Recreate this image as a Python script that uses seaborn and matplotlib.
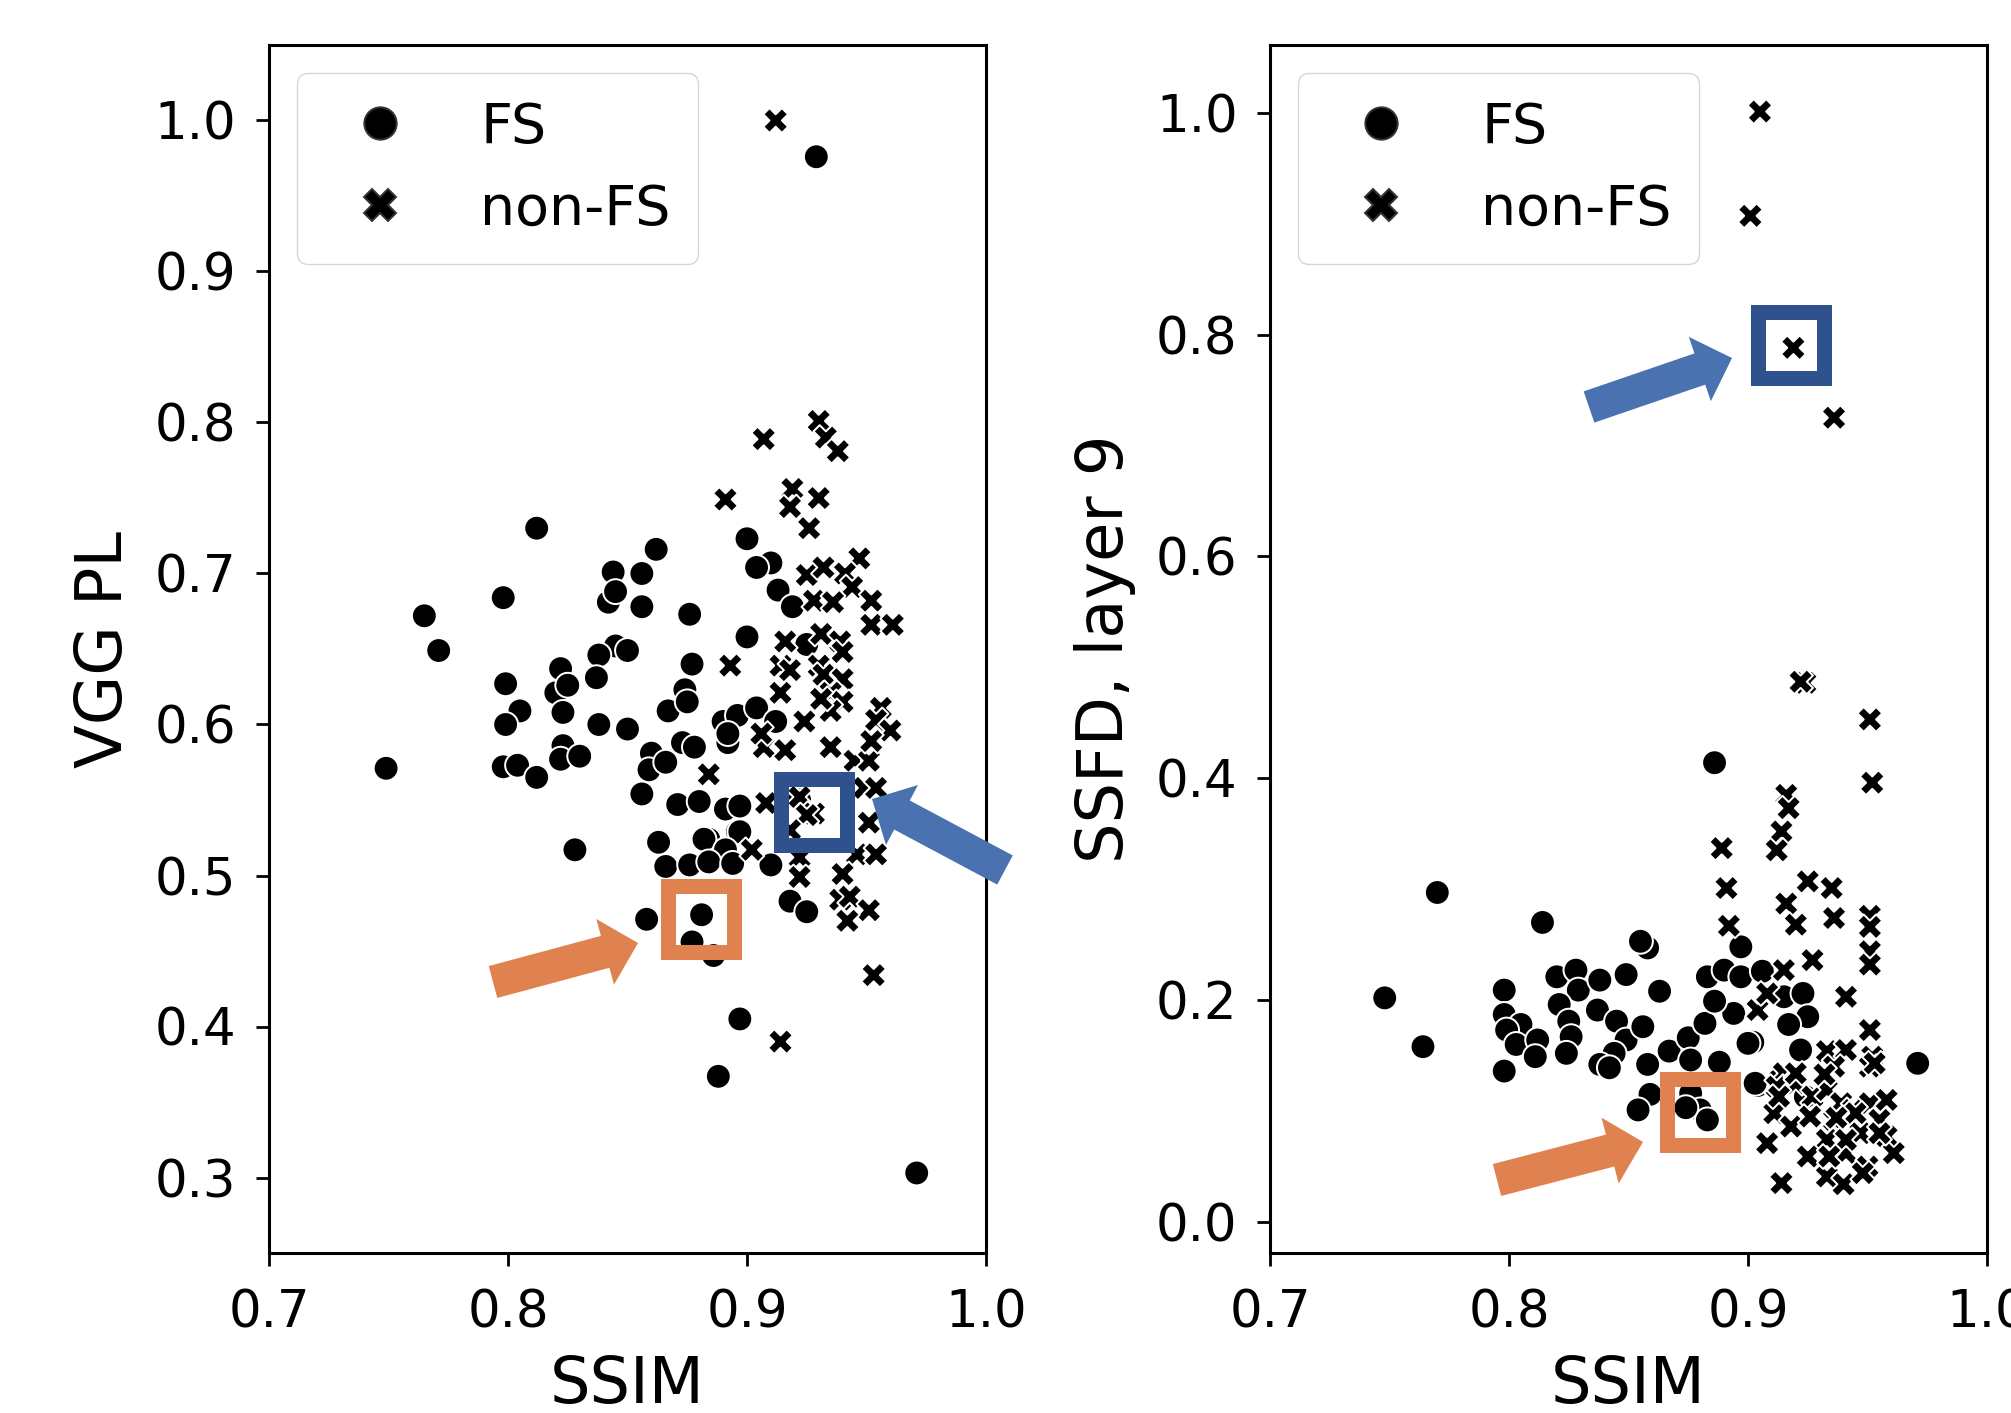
import numpy as np
import pandas as pd
import matplotlib
matplotlib.use("Agg")
import matplotlib.pyplot as plt
from matplotlib.patches import FancyArrow, Rectangle
from matplotlib.transforms import IdentityTransform
import seaborn as sns

# ---------------- data ----------------
# Left panel: SSIM vs VGG PL
left_fs_ssim = [0.929, 0.812, 0.862, 0.900, 0.844, 0.856, 0.910, 0.904, 0.913, 0.919,
                0.798, 0.765, 0.771, 0.842, 0.845, 0.856, 0.876, 0.900, 0.925, 0.845,
                0.850, 0.838, 0.837, 0.822, 0.877, 0.799, 0.820, 0.825, 0.805, 0.799,
                0.823, 0.838, 0.850, 0.867, 0.874, 0.875, 0.890, 0.896, 0.904, 0.912,
                0.749, 0.823, 0.798, 0.804, 0.812, 0.822, 0.830, 0.873, 0.860, 0.859,
                0.866, 0.856, 0.871, 0.880, 0.891, 0.897, 0.896, 0.884, 0.882, 0.897,
                0.891, 0.863, 0.866, 0.876, 0.884, 0.894, 0.910, 0.828, 0.892, 0.892,
                0.918, 0.925, 0.858, 0.881, 0.877, 0.886, 0.897, 0.888, 0.971, 0.922,
                0.878]
left_fs_vgg = [0.976, 0.730, 0.716, 0.723, 0.701, 0.700, 0.707, 0.704, 0.689, 0.678,
               0.684, 0.672, 0.649, 0.681, 0.688, 0.678, 0.673, 0.658, 0.653, 0.652,
               0.649, 0.646, 0.631, 0.637, 0.640, 0.627, 0.621, 0.626, 0.609, 0.600,
               0.608, 0.600, 0.597, 0.609, 0.623, 0.615, 0.602, 0.606, 0.611, 0.602,
               0.571, 0.586, 0.572, 0.573, 0.565, 0.577, 0.579, 0.588, 0.581, 0.570,
               0.575, 0.554, 0.547, 0.549, 0.544, 0.546, 0.529, 0.524, 0.524, 0.529,
               0.517, 0.522, 0.506, 0.507, 0.509, 0.508, 0.507, 0.517, 0.588, 0.594,
               0.483, 0.476, 0.471, 0.474, 0.456, 0.447, 0.405, 0.367, 0.303, 0.550,
               0.585]
left_nfs_ssim = [0.912, 0.907, 0.930, 0.933, 0.938, 0.891, 0.919, 0.930, 0.918, 0.926,
                 0.947, 0.925, 0.932, 0.941, 0.944, 0.928, 0.936, 0.952, 0.952, 0.961,
                 0.916, 0.931, 0.939, 0.940, 0.893, 0.914, 0.918, 0.930, 0.932, 0.940,
                 0.914, 0.935, 0.940, 0.956, 0.954, 0.924, 0.935, 0.960, 0.935, 0.945,
                 0.951, 0.952, 0.907, 0.916, 0.884, 0.908, 0.922, 0.928, 0.949, 0.954,
                 0.951, 0.902, 0.922, 0.922, 0.946, 0.954, 0.940, 0.939, 0.943, 0.951,
                 0.942, 0.953, 0.914, 0.931, 0.906, 0.925, 0.918]
left_nfs_vgg = [1.000, 0.789, 0.801, 0.790, 0.781, 0.749, 0.756, 0.750, 0.744, 0.730,
                0.710, 0.699, 0.704, 0.700, 0.691, 0.682, 0.681, 0.682, 0.666, 0.666,
                0.655, 0.660, 0.655, 0.648, 0.639, 0.639, 0.636, 0.639, 0.633, 0.630,
                0.621, 0.621, 0.615, 0.611, 0.603, 0.602, 0.609, 0.596, 0.585, 0.576,
                0.576, 0.589, 0.585, 0.583, 0.567, 0.548, 0.552, 0.541, 0.558, 0.558,
                0.535, 0.517, 0.512, 0.499, 0.514, 0.514, 0.501, 0.484, 0.486, 0.477,
                0.470, 0.434, 0.390, 0.617, 0.594, 0.540, 0.530]

# Right panel: SSIM vs SSFD, layer 9
right_fs_ssim = [0.770, 0.814, 0.748, 0.764, 0.798, 0.798, 0.805, 0.799, 0.803, 0.812,
                 0.811, 0.798, 0.820, 0.828, 0.829, 0.838, 0.849, 0.858, 0.855, 0.863,
                 0.821, 0.825, 0.826, 0.824, 0.837, 0.845, 0.849, 0.856, 0.844, 0.838,
                 0.842, 0.858, 0.867, 0.875, 0.876, 0.882, 0.883, 0.859, 0.854, 0.876,
                 0.880, 0.883, 0.874, 0.886, 0.890, 0.897, 0.897, 0.906, 0.915, 0.923,
                 0.925, 0.917, 0.894, 0.886, 0.902, 0.888, 0.904, 0.922, 0.924, 0.913,
                 0.971, 0.903, 0.900]
right_fs_ssfd = [0.297, 0.270, 0.202, 0.158, 0.209, 0.187, 0.178, 0.173, 0.160, 0.164,
                 0.149, 0.136, 0.221, 0.227, 0.209, 0.218, 0.223, 0.247, 0.253, 0.208,
                 0.196, 0.181, 0.167, 0.152, 0.191, 0.181, 0.164, 0.176, 0.152, 0.142,
                 0.139, 0.142, 0.154, 0.166, 0.146, 0.179, 0.221, 0.115, 0.101, 0.116,
                 0.101, 0.092, 0.103, 0.414, 0.227, 0.221, 0.248, 0.226, 0.203, 0.206,
                 0.185, 0.178, 0.188, 0.199, 0.162, 0.144, 0.123, 0.155, 0.113, 0.128,
                 0.143, 0.125, 0.161]
right_nfs_ssim = [0.905, 0.901, 0.919, 0.936, 0.924, 0.922, 0.951, 0.952, 0.916, 0.917,
                  0.914, 0.912, 0.889, 0.891, 0.925, 0.935, 0.916, 0.920, 0.936, 0.951,
                  0.951, 0.951, 0.951, 0.927, 0.892, 0.941, 0.915, 0.904, 0.908, 0.951,
                  0.933, 0.941, 0.952, 0.936, 0.951, 0.915, 0.912, 0.920, 0.927, 0.933,
                  0.939, 0.944, 0.951, 0.958, 0.955, 0.947, 0.958, 0.936, 0.933, 0.925,
                  0.908, 0.914, 0.911, 0.918, 0.941, 0.950, 0.961, 0.953, 0.932, 0.920,
                  0.913, 0.933, 0.940, 0.948, 0.955, 0.945, 0.937, 0.941, 0.934, 0.926]
right_nfs_ssfd = [1.001, 0.907, 0.788, 0.725, 0.486, 0.487, 0.453, 0.396, 0.385, 0.373,
                  0.352, 0.335, 0.337, 0.301, 0.307, 0.301, 0.287, 0.268, 0.274, 0.276,
                  0.266, 0.244, 0.232, 0.236, 0.267, 0.203, 0.227, 0.191, 0.206, 0.173,
                  0.154, 0.155, 0.149, 0.140, 0.140, 0.134, 0.122, 0.125, 0.113, 0.119,
                  0.107, 0.101, 0.107, 0.110, 0.092, 0.080, 0.077, 0.092, 0.074, 0.059,
                  0.071, 0.035, 0.098, 0.086, 0.062, 0.050, 0.062, 0.143, 0.133, 0.134,
                  0.113, 0.041, 0.034, 0.044, 0.080, 0.098, 0.094, 0.074, 0.059, 0.095]

group_labels = ["FS", "non-FS"]
x_label = "SSIM"
left_ylabel = "VGG PL"
right_ylabel = "SSFD, layer 9"


def make_df(fs_x, fs_y, nfs_x, nfs_y, yname):
    return pd.DataFrame({
        x_label: list(fs_x) + list(nfs_x),
        yname: list(fs_y) + list(nfs_y),
        "type": [group_labels[0]] * len(fs_x) + [group_labels[1]] * len(nfs_x),
    })


df_left = make_df(left_fs_ssim, left_fs_vgg, left_nfs_ssim, left_nfs_vgg, left_ylabel)
df_right = make_df(right_fs_ssim, right_fs_ssfd, right_nfs_ssim, right_nfs_ssfd, right_ylabel)

# ---------------- figure ----------------
W, H = 2011, 1413
DPI = 100
plt.rcParams.update({
    "font.family": ["DejaVu Sans"],
    "axes.linewidth": 2.2,
    "xtick.major.size": 9.4,
    "ytick.major.size": 9.4,
    "xtick.major.width": 2.0,
    "ytick.major.width": 2.0,
    "xtick.major.pad": 16,
    "ytick.major.pad": 14,
    "xtick.labelsize": 37,
    "ytick.labelsize": 37,
    "axes.labelsize": 46,
})

fig = plt.figure(figsize=(W / DPI, H / DPI), dpi=DPI)
fig.patch.set_facecolor("white")

ax_l = fig.add_axes([269 / W, 160 / H, 717 / W, 1208 / H])
ax_r = fig.add_axes([1270 / W, 160 / H, 717 / W, 1208 / H])

markers = {group_labels[0]: "o", group_labels[1]: "X"}

for ax, df, yname, ylim in [
    (ax_l, df_left, left_ylabel, (0.25, 1.05)),
    (ax_r, df_right, right_ylabel, (-0.028, 1.061)),
]:
    sns.scatterplot(data=df, x=x_label, y=yname, style="type", markers=markers,
                    color="black", s=320, ax=ax)
    ax.set_xlim(0.7, 1.0)
    ax.set_ylim(*ylim)
    ax.set_xticks([0.7, 0.8, 0.9, 1.0])
    ax.set_xlabel(x_label, labelpad=11)
    ax.set_ylabel(yname, labelpad=14.5)
    sns.move_legend(ax, "upper left", title=None, fontsize=40, markerscale=1.3,
                    borderaxespad=0.5, borderpad=0.5)
    for h in ax.get_legend().legend_handles:
        h.set_color("#333333")
        h.set_markeredgecolor("#333333")

ax_l.set_yticks(np.arange(0.3, 1.01, 0.1))
ax_r.set_yticks(np.arange(0.0, 1.01, 0.2))

# ---------------- annotations (figure pixel coordinates, origin top-left) ----------------
ORANGE = "#E08250"
BLUE = "#4A72B0"
DARK_BLUE = "#2F528F"


def add_arrow(tail, tip, color):
    x0, y0 = tail[0], H - tail[1]
    x1, y1 = tip[0], H - tip[1]
    arr = FancyArrow(x0, y0, x1 - x0, y1 - y0, width=33, head_width=68,
                     head_length=34, length_includes_head=True, color=color,
                     linewidth=0, transform=IdentityTransform(), zorder=10)
    fig.add_artist(arr)


def add_box(left, top, size, color):
    rect = Rectangle((left, H - top - size), size, size, fill=False,
                     edgecolor=color, linewidth=15 * 72 / DPI, joinstyle="miter",
                     transform=IdentityTransform(), zorder=10)
    fig.add_artist(rect)


add_box(667.5, 885.5, 66, ORANGE)
add_box(780.5, 778.5, 66, DARK_BLUE)
add_box(1757.5, 311.5, 66, DARK_BLUE)
add_box(1667, 1079, 66, ORANGE)

add_arrow((493, 982), (638, 943), ORANGE)
add_arrow((1005, 870), (872, 799), BLUE)
add_arrow((1589, 407), (1732, 358), BLUE)
add_arrow((1497, 1180), (1643, 1142), ORANGE)

fig.savefig("out.png", dpi=DPI)
